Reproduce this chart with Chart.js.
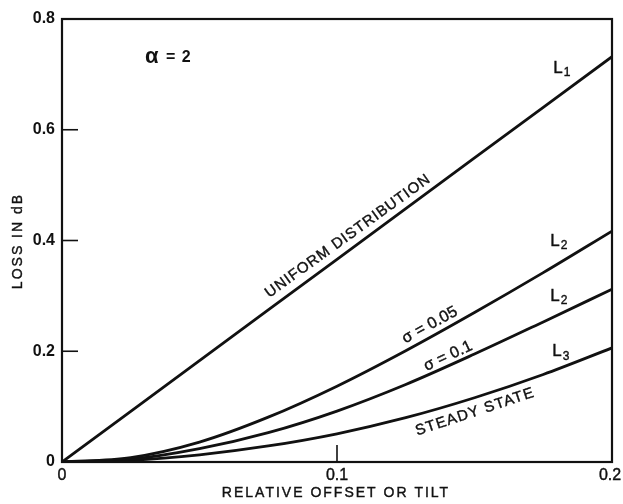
<!DOCTYPE html>
<html>
<head>
<meta charset="utf-8">
<script src="https://cdn.jsdelivr.net/npm/chart.js@4.4.1/dist/chart.umd.min.js"></script>
<style>
    html, body { margin: 0; padding: 0; background: #fff; }
    #wrap { width: 623px; height: 504px; }
</style>
</head>
<body>
<div id="wrap"><canvas id="loss-chart" width="623" height="504"></canvas></div>
<script>
// Values (x = relative offset, y = loss in dB)
const offsets = [0, 0.025, 0.05, 0.075, 0.1, 0.125, 0.15, 0.175, 0.2];
const uniformLoss = [0, 0.0915, 0.183, 0.2745, 0.366, 0.4575, 0.549, 0.6405, 0.732];
const sigma005Loss = [0, 0.008, 0.036, 0.081, 0.137, 0.201, 0.27, 0.342, 0.417];
const sigma01Loss = [0, 0.005, 0.024, 0.053, 0.092, 0.14, 0.195, 0.253, 0.312];
const steadyLoss = [0, 0.003, 0.013, 0.029, 0.051, 0.08, 0.116, 0.158, 0.206];

const xTicks = [0, 0.1, 0.2];
const yTicks = [0, 0.2, 0.4, 0.6, 0.8];

const FONT = '"Liberation Sans", Arial, Helvetica, sans-serif';
const INK = '#111';

// Text labels placed in data coordinates
const notes = [
    { text: 'UNIFORM DISTRIBUTION', x: 0.104, y: 0.408, angle: -35.8, size: 15, spacing: 1.0 },
    { text: 'σ = 0.05', x: 0.1338, y: 0.2474, angle: -28.5, size: 16, spacing: 0.2 },
    { text: 'σ = 0.1', x: 0.1404, y: 0.1914, angle: -25, size: 16, spacing: 0.2 },
    { text: 'STEADY STATE', x: 0.1502, y: 0.0903, angle: -18.4, size: 15, spacing: 1.2 }
];
const curveTags = [
    { base: 'L', sub: '1', x: 0.1804, y: 0.7115 },
    { base: 'L', sub: '2', x: 0.1793, y: 0.399 },
    { base: 'L', sub: '2', x: 0.1793, y: 0.300 },
    { base: 'L', sub: '3', x: 0.1800, y: 0.199 }
];

const toPoints = (vals) => offsets.map((x, i) => ({ x: x, y: vals[i] }));

const lineStyle = {
    borderColor: INK,
    borderWidth: 2.8,
    pointRadius: 0,
    fill: false,
    cubicInterpolationMode: 'monotone'
};

// filled text with a thin outline, closer to the heavy print of the scan
function inkText(ctx, text, x, y) {
    ctx.fillText(text, x, y);
    ctx.strokeText(text, x, y);
}

const decorations = {
    id: 'decorations',
    afterDraw(chart) {
        const ctx = chart.ctx;
        const a = chart.chartArea;
        const xs = chart.scales.x;
        const ys = chart.scales.y;

        ctx.save();
        // frame
        ctx.strokeStyle = INK;
        ctx.lineWidth = 2.2;
        ctx.strokeRect(a.left, a.top, a.right - a.left, a.bottom - a.top);

        // inward tick marks
        ctx.lineWidth = 1.6;
        yTicks.slice(1, -1).forEach(v => {
            const py = ys.getPixelForValue(v);
            ctx.beginPath();
            ctx.moveTo(a.left, py);
            ctx.lineTo(a.left + 16, py);
            ctx.stroke();
        });
        xTicks.slice(1, -1).forEach(v => {
            const px = xs.getPixelForValue(v);
            ctx.beginPath();
            ctx.moveTo(px, a.bottom);
            ctx.lineTo(px, a.bottom - 17);
            ctx.stroke();
        });

        ctx.fillStyle = INK;
        ctx.lineWidth = 0.4;
        ctx.textAlign = 'center';
        ctx.textBaseline = 'middle';

        // x tick labels (drawn here so the last one may hang past the frame)
        ctx.font = '16px ' + FONT;
        xTicks.forEach(v => {
            inkText(ctx, String(v), Math.min(xs.getPixelForValue(v), 610), a.bottom + 14);
        });

        // rotated curve labels
        notes.forEach(n => {
            ctx.save();
            ctx.translate(xs.getPixelForValue(n.x), ys.getPixelForValue(n.y));
            ctx.rotate(n.angle * Math.PI / 180);
            ctx.font = n.size + 'px ' + FONT;
            ctx.letterSpacing = n.spacing + 'px';
            inkText(ctx, n.text, 0, 0);
            ctx.restore();
        });

        // L1, L2, L3 tags
        curveTags.forEach(t => {
            const px = xs.getPixelForValue(t.x);
            const py = ys.getPixelForValue(t.y);
            ctx.font = '17px ' + FONT;
            inkText(ctx, t.base, px, py);
            ctx.font = '12px ' + FONT;
            inkText(ctx, t.sub, px + 9, py + 5);
        });

        // alpha note
        const ay = ys.getPixelForValue(0.7296);
        ctx.textAlign = 'left';
        ctx.font = 'bold 22px ' + FONT;
        ctx.fillText('α', 145, ay - 1);
        ctx.font = 'bold 16px ' + FONT;
        ctx.letterSpacing = '1px';
        ctx.fillText('= 2', 166, ay);

        // axis titles
        ctx.font = '14px ' + FONT;
        ctx.letterSpacing = '2px';
        ctx.textAlign = 'center';
        inkText(ctx, 'RELATIVE OFFSET OR TILT', 336, 493);
        ctx.save();
        ctx.translate(18, 241);
        ctx.rotate(-Math.PI / 2);
        inkText(ctx, 'LOSS IN dB', 0, 0);
        ctx.restore();

        ctx.restore();
    }
};

document.addEventListener('DOMContentLoaded', () => {
    const ctx = document.getElementById('loss-chart').getContext('2d');

    new Chart(ctx, {
        type: 'line',
        data: {
            datasets: [
                { label: 'Uniform distribution', data: toPoints(uniformLoss), ...lineStyle, cubicInterpolationMode: 'default', tension: 0 },
                { label: 'sigma = 0.05', data: toPoints(sigma005Loss), ...lineStyle },
                { label: 'sigma = 0.1', data: toPoints(sigma01Loss), ...lineStyle },
                { label: 'Steady state', data: toPoints(steadyLoss), ...lineStyle }
            ]
        },
        options: {
            responsive: false,
            animation: false,
            devicePixelRatio: 1,
            layout: { padding: { top: 19, right: 11, left: 0, bottom: 0 } },
            plugins: {
                legend: { display: false },
                tooltip: { enabled: false }
            },
            scales: {
                x: {
                    type: 'linear',
                    min: 0,
                    max: 0.2,
                    afterFit: (scale) => { scale.height = 42; },
                    afterBuildTicks: (scale) => { scale.ticks = xTicks.map(v => ({ value: v })); },
                    grid: { display: false, drawTicks: false },
                    border: { display: false },
                    ticks: { display: false }
                },
                y: {
                    min: 0,
                    max: 0.8,
                    afterFit: (scale) => { scale.width = 62; },
                    afterBuildTicks: (scale) => { scale.ticks = yTicks.map(v => ({ value: v })); },
                    grid: { display: false, drawTicks: false },
                    border: { display: false },
                    ticks: {
                        padding: 7,
                        color: INK,
                        font: { family: FONT, size: 16, weight: 'bold' },
                        callback: (v) => String(v)
                    }
                }
            }
        },
        plugins: [decorations]
    });
});
</script>
</body>
</html>
